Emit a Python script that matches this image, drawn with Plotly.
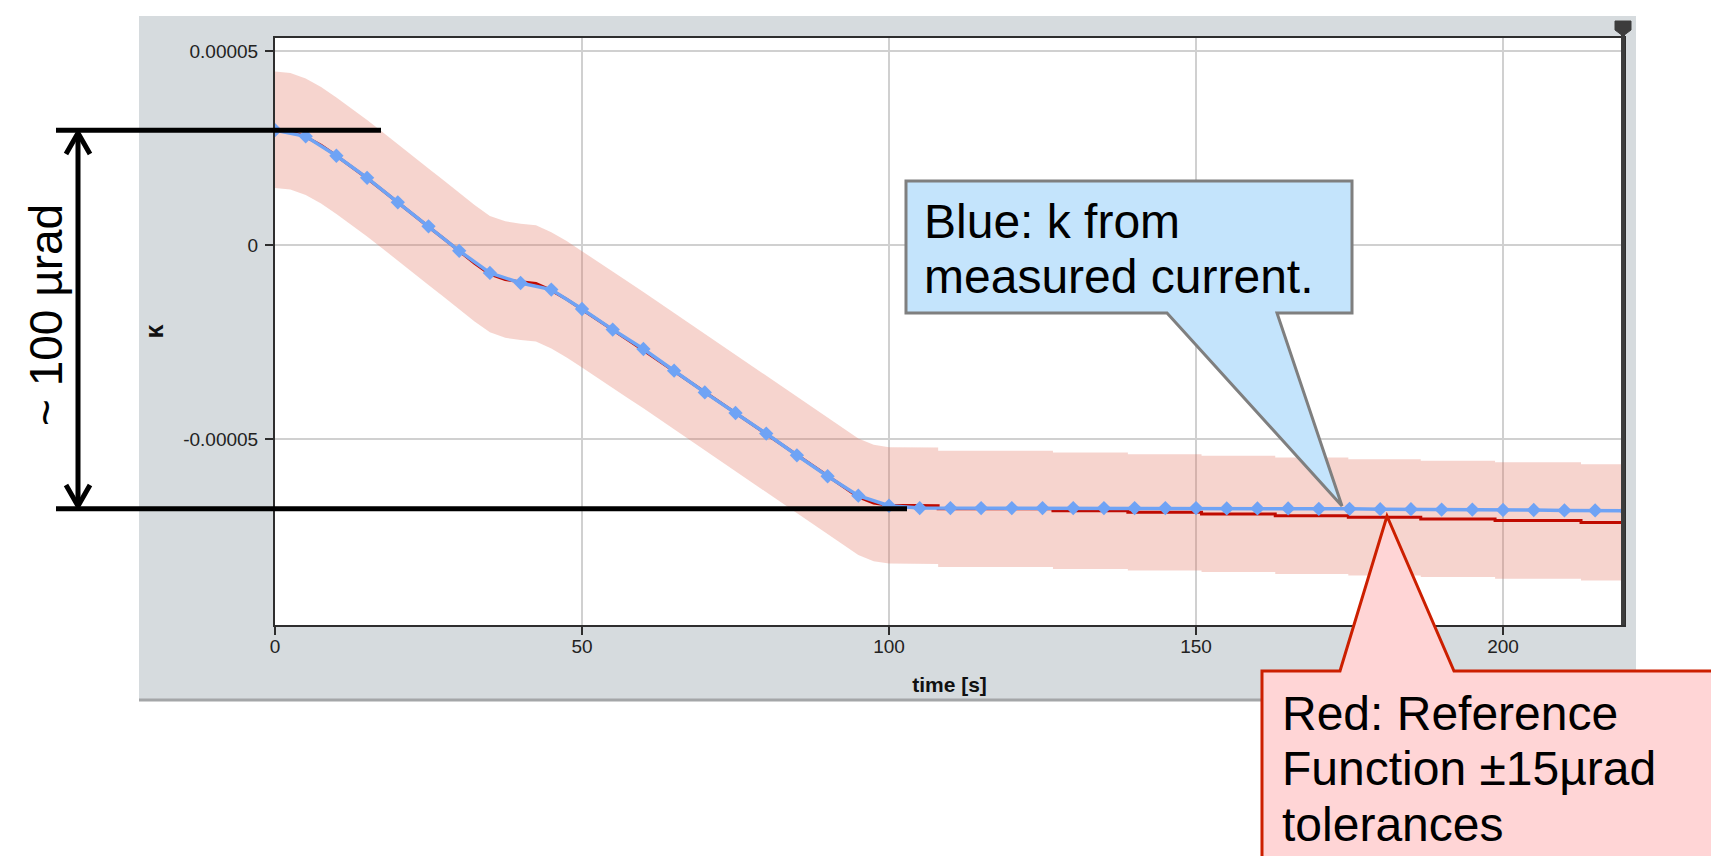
import plotly.graph_objects as go

# ---------------- data ----------------
# Reference function (red), time [s] and kappa
red_t = [0, 2.5, 5, 7.5, 10, 12.5, 15, 17.5, 20, 22.5, 25, 27.5, 30, 32.5, 35, 37.5,
         40, 42.5, 45, 47.5, 50, 52.5, 55, 57.5, 60, 62.5, 65, 67.5, 70, 72.5, 75,
         77.5, 80, 82.5, 85, 87.5, 90, 92.5, 95, 97.5, 100, 108, 108, 126.7, 126.7,
         138.9, 138.9, 150.9, 150.9, 162.9, 162.9, 174.8, 174.8, 186.6, 186.6,
         198.7, 198.7, 212.7, 212.7, 220]
red_k = [2.97e-5, 2.93e-5, 2.79e-5, 2.57e-5, 2.30e-5, 2.02e-5, 1.72e-5, 1.41e-5,
         1.09e-5, 0.78e-5, 0.47e-5, 0.16e-5, -0.16e-5, -0.47e-5, -0.75e-5, -0.89e-5,
         -0.95e-5, -0.99e-5, -1.17e-5, -1.40e-5, -1.66e-5, -1.93e-5, -2.19e-5,
         -2.45e-5, -2.71e-5, -2.98e-5, -3.25e-5, -3.52e-5, -3.80e-5, -4.07e-5,
         -4.34e-5, -4.61e-5, -4.88e-5, -5.15e-5, -5.43e-5, -5.70e-5, -5.97e-5,
         -6.24e-5, -6.49e-5, -6.65e-5, -6.71e-5, -6.72e-5, -6.80e-5, -6.80e-5,
         -6.85e-5, -6.85e-5, -6.89e-5, -6.89e-5, -6.93e-5, -6.93e-5, -6.98e-5,
         -6.98e-5, -7.02e-5, -7.02e-5, -7.06e-5, -7.06e-5, -7.10e-5, -7.10e-5,
         -7.15e-5, -7.15e-5]
TOLERANCE = 1.5e-5  # +-15 urad

# k from measured current (blue), sampled every 5 s
blue_t = [0, 5, 10, 15, 20, 25, 30, 35, 40, 45, 50, 55, 60, 65, 70, 75, 80, 85, 90,
          95, 100, 105, 110, 115, 120, 125, 130, 135, 140, 145, 150, 155, 160, 165,
          170, 175, 180, 185, 190, 195, 200, 205, 210, 215, 220]
blue_k = [2.96e-5, 2.80e-5, 2.30e-5, 1.73e-5, 1.10e-5, 0.48e-5, -0.15e-5, -0.72e-5,
          -0.98e-5, -1.15e-5, -1.65e-5, -2.18e-5, -2.68e-5, -3.24e-5, -3.80e-5,
          -4.33e-5, -4.86e-5, -5.42e-5, -5.96e-5, -6.46e-5, -6.72e-5, -6.78e-5,
          -6.78e-5, -6.78e-5, -6.78e-5, -6.78e-5, -6.78e-5, -6.78e-5, -6.78e-5,
          -6.78e-5, -6.78e-5, -6.79e-5, -6.79e-5, -6.79e-5, -6.80e-5, -6.80e-5,
          -6.81e-5, -6.81e-5, -6.82e-5, -6.82e-5, -6.83e-5, -6.83e-5, -6.84e-5,
          -6.84e-5, -6.85e-5]

x_tickvals = [0, 50, 100, 150, 200]
x_ticktext = ["0", "50", "100", "150", "200"]
y_tickvals = [5e-5, 0, -5e-5]
y_ticktext = ["0.00005", "0", "-0.00005"]

span_top = 2.96e-5      # start level marked by the dimension line
span_bottom = -6.80e-5  # plateau level marked by the dimension line

blue_lines = ["Blue: k from", "measured current."]
red_lines = ["Red: Reference", "Function \u00b115\u00b5rad", "tolerances"]
span_label = "~ 100 \u00b5rad"

# ---------------- layout helpers ----------------
W, H = 1719, 856
PL, PR, PT, PB = 267, 1616, 30, 617
X_RANGE = [0, 219.7]
Y_RANGE = [-9.794e-5, 5.335e-5]
FONT = "Liberation Sans, Arial, Helvetica, sans-serif"


def px(x):
    return (x - PL) / (PR - PL)


def py(y):
    return (PB - y) / (PB - PT)


def path(points, close=True):
    s = "M " + " L ".join(f"{px(x):.5f},{py(y):.5f}" for x, y in points)
    return s + (" Z" if close else "")


band_upper = [v + TOLERANCE for v in red_k]
band_lower = [v - TOLERANCE for v in red_k]

fig = go.Figure()
fig.add_trace(go.Scatter(x=red_t, y=band_upper, mode="lines", line=dict(width=0),
                         hoverinfo="skip", showlegend=False))
fig.add_trace(go.Scatter(x=red_t, y=band_lower, mode="lines", line=dict(width=0),
                         fill="tonexty", fillcolor="rgba(225,112,92,0.3)",
                         hoverinfo="skip", showlegend=False))
fig.add_trace(go.Scatter(x=red_t, y=red_k, mode="lines", name="reference",
                         line=dict(color="#C00A00", width=3), showlegend=False))
fig.add_trace(go.Scatter(x=blue_t, y=blue_k, mode="lines+markers", name="measured",
                         line=dict(color="#6FA3F5", width=3.5),
                         marker=dict(symbol="diamond", size=11, color="#6FA3F5"),
                         showlegend=False))

shapes = []
# gray chart panel (with hole for plot area)
shapes.append(dict(type="path", xref="paper", yref="paper", layer="below",
                   path=path([(131, 8), (1628, 8), (1628, 692), (131, 692)]) + " " +
                   path([(PL, PT), (PL, PB), (PR, PB), (PR, PT)]),
                   fillcolor="#D6DBDE", line=dict(width=0)))
shapes.append(dict(type="line", xref="paper", yref="paper", layer="below",
                   x0=px(131), x1=px(1628), y0=py(692), y1=py(692),
                   line=dict(color="#A4A6A8", width=3)))
# cursor at right edge
shapes.append(dict(type="line", xref="paper", yref="paper", layer="above",
                   x0=px(1615), x1=px(1615), y0=py(22), y1=py(PB),
                   line=dict(color="#3C3C3C", width=4)))
shapes.append(dict(type="path", xref="paper", yref="paper", layer="above",
                   path=path([(1607, 13), (1623, 13), (1623, 22), (1615, 28), (1607, 22)]),
                   fillcolor="#3C3C3C", line=dict(color="#3C3C3C", width=1)))
# dimension lines
shapes.append(dict(type="line", xref="paper", yref="y", layer="above",
                   x0=px(48), x1=px(373), y0=span_top, y1=span_top,
                   line=dict(color="black", width=5)))
shapes.append(dict(type="line", xref="paper", yref="y", layer="above",
                   x0=px(48), x1=px(899), y0=span_bottom, y1=span_bottom,
                   line=dict(color="black", width=5)))
shapes.append(dict(type="path", xref="paper", yref="paper", layer="above",
                   path=path([(70, 125), (70, 498)], close=False),
                   line=dict(color="black", width=5)))
shapes.append(dict(type="path", xref="paper", yref="paper", layer="above",
                   path=path([(58, 146), (70, 125), (82, 146)], close=False),
                   line=dict(color="black", width=5)))
shapes.append(dict(type="path", xref="paper", yref="paper", layer="above",
                   path=path([(58, 477), (70, 498), (82, 477)], close=False),
                   line=dict(color="black", width=5)))
# callouts
shapes.append(dict(type="path", xref="paper", yref="paper", layer="above",
                   path=path([(898, 173), (1344, 173), (1344, 305), (1269, 305),
                              (1334, 498), (1159, 305), (898, 305)]),
                   fillcolor="#C4E4FC", line=dict(color="#7F7F7F", width=3)))
shapes.append(dict(type="path", xref="paper", yref="paper", layer="above",
                   path=path([(1254, 663), (1332, 663), (1379, 508), (1446, 663),
                              (1713, 663), (1713, 880), (1254, 880)]),
                   fillcolor="#FFD5D6", line=dict(color="#CC1F00", width=3)))

annotations = []
for i, line in enumerate(blue_lines):
    base = 230 + 55 * i
    annotations.append(dict(xref="paper", yref="paper", x=px(914), y=py(base - 16.6),
                            text=line, showarrow=False, xanchor="left", yanchor="middle",
                            font=dict(family=FONT, size=48, color="black")))
for i, line in enumerate(red_lines):
    base = 722 + 55.5 * i
    annotations.append(dict(xref="paper", yref="paper", x=px(1272), y=py(base - 16.6),
                            text=line, showarrow=False, xanchor="left", yanchor="middle",
                            font=dict(family=FONT, size=48, color="black")))
annotations.append(dict(xref="paper", yref="paper", x=px(38), y=py(307), text=span_label,
                        showarrow=False, textangle=-90, xanchor="center", yanchor="middle",
                        font=dict(family=FONT, size=46, color="black")))

axis_common = dict(showline=True, linecolor="#2E2E2E", linewidth=2, mirror=True,
                   showgrid=True, gridcolor="#D0D0D0", gridwidth=1.5, zeroline=False,
                   ticks="outside", ticklen=8, tickwidth=1.5, tickcolor="#2E2E2E",
                   tickfont=dict(family=FONT, size=19, color="#222222"))

fig.update_layout(
    width=W, height=H, autosize=False,
    margin=dict(l=PL, r=W - PR, t=PT, b=H - PB, pad=0),
    paper_bgcolor="white", plot_bgcolor="white",
    showlegend=False,
    shapes=shapes, annotations=annotations,
    xaxis=dict(range=X_RANGE, tickvals=x_tickvals, ticktext=x_ticktext,
               ticklabelstandoff=-5,
               title=dict(text="<b>time [s]</b>", standoff=22,
                          font=dict(family=FONT, size=21, color="#111111")),
               **axis_common),
    yaxis=dict(range=Y_RANGE, tickvals=y_tickvals, ticktext=y_ticktext,
               ticklabelstandoff=3,
               title=dict(text="<b>\u03ba</b>", standoff=12,
                          font=dict(family=FONT, size=25, color="#111111")),
               **axis_common),
)

fig.write_html("out.html")
